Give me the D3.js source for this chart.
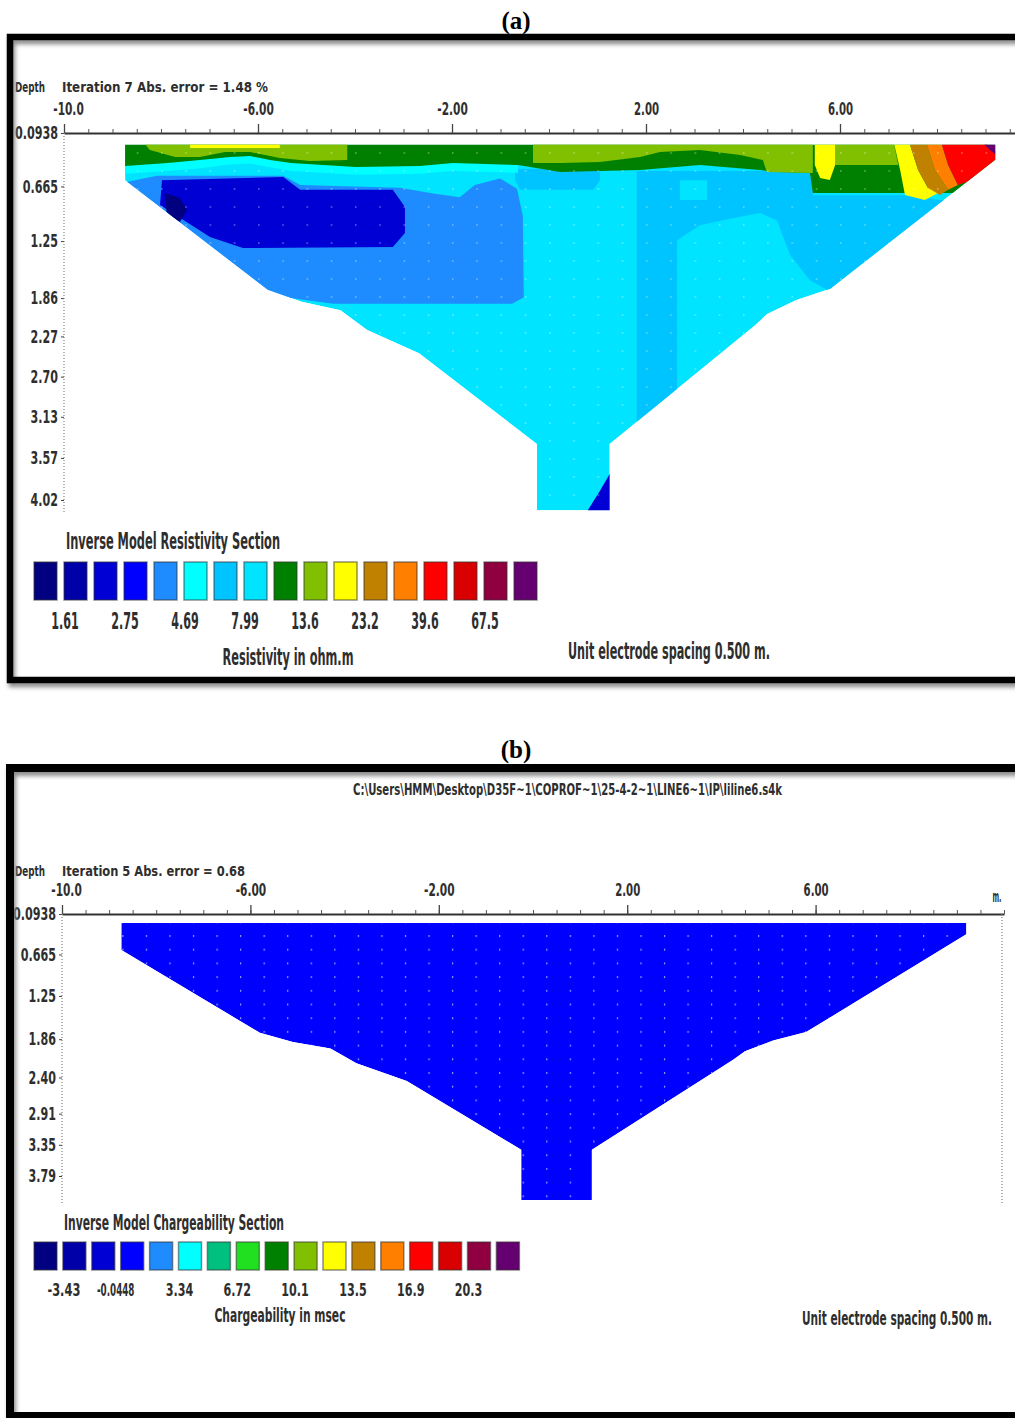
<!DOCTYPE html>
<html>
<head>
<meta charset="utf-8">
<title>Inverse model sections</title>
<script src="https://cdn.jsdelivr.net/npm/d3@7"></script>
<style>
  body { margin: 0; background: #ffffff; }
  svg { display: block; }
  .dos {
    font-family: "DejaVu Sans Condensed", "DejaVu Sans", sans-serif;
    font-weight: bold;
    fill: #2e2e2e;
  }
  .panel-title {
    font-family: "Liberation Serif", "Times New Roman", serif;
    font-weight: bold;
    font-size: 25px;
    fill: #000;
  }
</style>
</head>
<body>
<div id="chart"></div>
<script>
// ---- Data ----
var xMajorTicks = [-10, -6, -2, 2, 6];
var xMajorLabels = ["-10.0", "-6.00", "-2.00", "2.00", "6.00"];
var xMinorStep = 0.5; // unit electrode spacing

var depthTicksA = [0.0938, 0.665, 1.25, 1.86, 2.27, 2.70, 3.13, 3.57, 4.02];
var depthLabelsA = ["0.0938", "0.665", "1.25", "1.86", "2.27", "2.70", "3.13", "3.57", "4.02"];
var depthTicksB = [0.0938, 0.665, 1.25, 1.86, 2.40, 2.91, 3.35, 3.79];
var depthLabelsB = ["0.0938", "0.665", "1.25", "1.86", "2.40", "2.91", "3.35", "3.79"];

var resColors = ["#000080", "#0000a8", "#0000d4", "#0000ff", "#1e8cff", "#00ffff", "#00c4ff", "#00e4ff",
                 "#008000", "#80c000", "#ffff00", "#c08000", "#ff8000", "#ff0000", "#d80000", "#900040", "#640070"];
var resLabels = ["1.61", "2.75", "4.69", "7.99", "13.6", "23.2", "39.6", "67.5"];

var chgColors = ["#000080", "#0000a8", "#0000d4", "#0000ff", "#1e8cff", "#00ffff", "#00c080", "#20e020",
                 "#008000", "#80c000", "#ffff00", "#c08000", "#ff8000", "#ff0000", "#d80000", "#900040", "#640070"];
var chgLabels = ["-3.43", "-0.0448", "3.34", "6.72", "10.1", "13.5", "16.9", "20.3"];

// model section outline, [x (m), depth (m)] - same survey in both panels
var sectionOutline = [[-8.74, 0.22], [9.2, 0.22], [9.2, 0.38], [5.8, 1.76], [5.1, 1.88], [4.5, 2.03], [4.25, 2.15],
                      [1.25, 3.42], [1.25, 4.13], [-0.25, 4.13], [-0.25, 3.42], [-2.68, 2.45], [-3.75, 2.2],
                      [-4.3, 1.99], [-5.1, 1.9], [-5.8, 1.77], [-8.74, 0.6]];

// resistivity zones of panel (a), [x, depth]; level = index in resColors
var resBaseLevel = 7;
var zoneSkyTop = [[-0.70, 0.48], [1.05, 0.48], [1.05, 0.60], [0.91, 0.70], [-0.60, 0.70], [-0.70, 0.60]];
var zoneSkyRight = [[1.81, 0.50], [5.44, 0.50], [5.44, 0.76], [7.34, 0.76], [8.06, 0.81], [9.30, 0.81], [9.30, 2.10],
                    [5.79, 1.79], [5.38, 1.67], [4.97, 1.40], [4.70, 1.03], [4.35, 0.95], [3.73, 1.01], [3.11, 1.08],
                    [2.64, 1.24], [2.64, 3.70], [1.81, 3.70]];
var zonePaleSquare = [[2.70, 0.60], [3.26, 0.60], [3.26, 0.81], [2.70, 0.81]];
var zoneDodger = [[-8.08, 0.55], [-5.48, 0.55], [-5.13, 0.65], [-3.07, 0.68], [-2.39, 0.74], [-1.84, 0.78], [-1.53, 0.65],
                  [-1.01, 0.58], [-0.66, 0.69], [-0.54, 0.98], [-0.52, 1.85], [-0.76, 1.92], [-4.45, 1.92],
                  [-6.16, 1.80], [-8.74, 0.90], [-8.74, 0.62]];
var zoneDarkBlue = [[-7.98, 0.60], [-5.48, 0.565], [-5.13, 0.70], [-3.22, 0.70], [-2.97, 0.886], [-2.97, 1.164],
                    [-3.22, 1.314], [-6.31, 1.325], [-6.99, 1.207], [-8.02, 0.865]];
var zoneNavy = [[-7.92, 0.736], [-7.61, 0.79], [-7.46, 0.918], [-7.61, 1.047], [-7.88, 0.972]];
var zoneStemBlue = [[0.80, 4.13], [1.05, 3.92], [1.30, 3.70], [1.30, 4.20], [0.80, 4.20]];
var zoneCyanBand = [[-9.3, 0.43], [-8.74, 0.44], [-7.86, 0.41], [-7.20, 0.38], [-6.58, 0.35], [-6.16, 0.34], [-5.75, 0.38],
                    [-5.32, 0.41], [-3.98, 0.45], [-2.66, 0.44], [-1.98, 0.41], [-0.64, 0.43],
                    [-0.64, 0.52], [-1.98, 0.50], [-2.66, 0.53], [-3.98, 0.54], [-5.32, 0.50], [-5.75, 0.46],
                    [-6.16, 0.42], [-6.58, 0.43], [-7.20, 0.47], [-7.86, 0.50], [-8.74, 0.53], [-9.3, 0.53]];
var zoneGreen = [[-9.3, 0.15], [9.5, 0.15], [9.5, 0.736], [5.44, 0.736], [5.38, 0.522], [4.70, 0.511], [4.35, 0.490],
                 [3.11, 0.436], [1.88, 0.490], [1.05, 0.501], [0.23, 0.511], [-0.64, 0.436], [-1.98, 0.415],
                 [-2.66, 0.447], [-3.98, 0.458], [-5.32, 0.415], [-5.75, 0.383], [-6.16, 0.340], [-6.58, 0.351],
                 [-7.20, 0.383], [-7.86, 0.415], [-8.74, 0.447], [-9.3, 0.436]];
var zoneYgLeft = [[-8.43, 0.15], [-4.16, 0.15], [-4.16, 0.383], [-4.93, 0.394], [-5.55, 0.361], [-6.16, 0.297],
                  [-6.68, 0.297], [-7.20, 0.351], [-7.71, 0.351], [-8.23, 0.276]];
var zoneYgRight = [[-0.33, 0.15], [5.44, 0.15], [5.44, 0.522], [4.49, 0.511], [4.41, 0.383], [3.94, 0.329],
                   [3.11, 0.276], [2.29, 0.297], [1.88, 0.351], [1.05, 0.404], [0.23, 0.415], [-0.33, 0.415]];
var zoneYgRight2 = [[5.90, 0.15], [7.09, 0.15], [7.20, 0.436], [5.90, 0.436]];
var zoneYellowTop = [[-7.40, 0.15], [-5.55, 0.15], [-5.55, 0.255], [-7.40, 0.255]];
var zoneYellowCol = [[5.48, 0.15], [5.90, 0.15], [5.90, 0.436], [5.79, 0.597], [5.59, 0.576], [5.48, 0.436]];
var zoneYellowDiag = [[7.09, 0.15], [7.40, 0.15], [7.61, 0.49], [7.81, 0.68], [8.06, 0.725], [7.75, 0.81],
                      [7.34, 0.758], [7.24, 0.49]];
var zoneBrown = [[7.40, 0.15], [7.75, 0.15], [7.96, 0.49], [8.23, 0.70], [8.06, 0.758], [7.81, 0.68], [7.61, 0.49]];
var zoneOrange = [[7.75, 0.15], [8.06, 0.15], [8.23, 0.436], [8.43, 0.65], [8.23, 0.70], [7.96, 0.49]];
var zoneRed = [[8.06, 0.15], [8.89, 0.15], [9.30, 0.33], [9.30, 0.49], [8.43, 0.65], [8.23, 0.436]];
var zonePurple = [[8.85, 0.15], [9.30, 0.15], [9.30, 0.36], [9.09, 0.276]];

var resZones = [
  {level: 6, pts: zoneSkyTop},
  {level: 6, pts: zoneSkyRight},
  {level: 7, pts: zonePaleSquare},
  {level: 4, pts: zoneDodger},
  {level: 2, pts: zoneDarkBlue},
  {level: 0, pts: zoneNavy},
  {level: 2, pts: zoneStemBlue},
  {level: 5, pts: zoneCyanBand},
  {level: 8, pts: zoneGreen},
  {level: 9, pts: zoneYgLeft},
  {level: 9, pts: zoneYgRight},
  {level: 9, pts: zoneYgRight2},
  {level: 10, pts: zoneYellowTop},
  {level: 10, pts: zoneYellowCol},
  {level: 10, pts: zoneYellowDiag},
  {level: 11, pts: zoneBrown},
  {level: 12, pts: zoneOrange},
  {level: 13, pts: zoneRed},
  {level: 16, pts: zonePurple}
];

// chargeability section (b) is a single class
var chgBaseLevel = 3;

// ---- Set up ----
var svgWidth = 1015;
var svgHeight = 1418;

var svg = d3.select("#chart")
  .append("svg")
  .attr("width", svgWidth)
  .attr("height", svgHeight);

var defs = svg.append("defs");

defs.append("filter").attr("id", "soft")
  .append("feGaussianBlur").attr("stdDeviation", 2);

// Step 1: scales
var xA = d3.scaleLinear().domain([-10, 10]).range([64, 1034]);
var yA = d3.scaleLinear().domain([0.0938, 4.02]).range([133, 500]);
var xB = d3.scaleLinear().domain([-10, 10]).range([62, 1004]);
var yB = d3.scaleLinear().domain([0.0938, 3.79]).range([914, 1176]);

var minorTicks = d3.range(-10, 10 + 1e-9, xMinorStep);

// model cell dots
defs.append("pattern").attr("id", "dotsA").attr("patternUnits", "userSpaceOnUse")
  .attr("x", xA(-8.5)).attr("y", 152)
  .attr("width", xA(xMinorStep) - xA(0)).attr("height", 18)
  .append("rect").attr("width", 1.5).attr("height", 2).attr("fill", "#ffffff").attr("opacity", 0.3);

defs.append("pattern").attr("id", "dotsB").attr("patternUnits", "userSpaceOnUse")
  .attr("x", xB(-8.22)).attr("y", 935)
  .attr("width", xB(xMinorStep) - xB(0)).attr("height", 13.7)
  .append("rect").attr("width", 1.2).attr("height", 2).attr("fill", "#8f9cff");

function dosText(parent, x, y, txt, size, width, anchor) {
  return parent.append("text")
    .attr("class", "dos")
    .attr("x", x)
    .attr("y", y)
    .attr("dominant-baseline", "central")
    .attr("text-anchor", anchor || "start")
    .attr("font-size", size)
    .attr("textLength", width)
    .attr("lengthAdjust", "spacingAndGlyphs")
    .text(txt);
}

function numWidth(s, digit) {
  var w = 0;
  for (var i = 0; i < s.length; i++) {
    w += s[i] === "." ? 4 : (s[i] === "-" ? 5.5 : digit);
  }
  return w;
}

function drawFrame(y0, y1, w) {
  svg.append("rect")
    .attr("x", 12).attr("y", y0 + 4)
    .attr("width", 1040).attr("height", y1 - y0)
    .attr("fill", "none").attr("stroke", "#8c8c8c").attr("stroke-width", w)
    .attr("filter", "url(#soft)");
  svg.append("rect")
    .attr("x", 10).attr("y", y0)
    .attr("width", 1040).attr("height", y1 - y0)
    .attr("fill", "none").attr("stroke", "#000").attr("stroke-width", w);
}

function drawAxes(xs, ys, depthTicks, depthLabels, depthEnd) {
  var axisY = ys(depthTicks[0]);

  // minor ticks + main line
  svg.append("g")
    .attr("transform", "translate(0," + axisY + ")")
    .call(d3.axisTop(xs).tickValues(minorTicks).tickSize(4).tickSizeOuter(0).tickFormat(""))
    .call(function(g) { g.select(".domain").attr("stroke", "#333").attr("stroke-width", 2); })
    .call(function(g) { g.selectAll(".tick line").attr("stroke", "#555"); });

  // major ticks with labels
  var major = svg.append("g")
    .attr("transform", "translate(0," + axisY + ")")
    .call(d3.axisTop(xs).tickValues(xMajorTicks).tickSize(9).tickFormat(function(d, i) { return xMajorLabels[i]; }));
  major.select(".domain").remove();
  major.selectAll(".tick line").attr("stroke", "#444").attr("stroke-width", 1.3);
  major.selectAll(".tick text")
    .attr("class", "dos")
    .attr("font-size", 18)
    .attr("dy", null)
    .attr("y", -25)
    .attr("dx", function(d, i) { return i === 0 ? 4 : 0; })
    .attr("dominant-baseline", "central")
    .attr("textLength", function(d, i) { return numWidth(xMajorLabels[i], 7); })
    .attr("lengthAdjust", "spacingAndGlyphs");

  // depth axis
  var left = svg.append("g")
    .attr("transform", "translate(" + xs(-10) + ",0)")
    .call(d3.axisLeft(ys).tickValues(depthTicks).tickSize(3).tickPadding(3)
      .tickFormat(function(d, i) { return depthLabels[i]; }));
  left.select(".domain").remove();
  left.selectAll(".tick line").attr("stroke", "#444");
  left.selectAll(".tick text")
    .attr("class", "dos")
    .attr("font-size", 18)
    .attr("textLength", function(d, i) { return numWidth(depthLabels[i], 7.8); })
    .attr("lengthAdjust", "spacingAndGlyphs");

  svg.append("line")
    .attr("x1", xs(-10)).attr("x2", xs(-10))
    .attr("y1", axisY).attr("y2", ys(depthEnd))
    .attr("stroke", "#666").attr("stroke-width", 1)
    .attr("stroke-dasharray", "1,2");
}

var line = function(xs, ys) {
  return d3.line().x(function(d) { return xs(d[0]); }).y(function(d) { return ys(d[1]); })
    .curve(d3.curveLinearClosed);
};

function drawLegend(colors, labels, x0, pitch, y0, boxH, labelY, fontSize) {
  var bx = d3.scaleLinear().domain([0, colors.length]).range([x0, x0 + colors.length * pitch]);
  var g = svg.append("g");
  g.selectAll("rect")
    .data(colors)
    .enter()
    .append("rect")
    .attr("x", function(d, i) { return bx(i); })
    .attr("y", y0)
    .attr("width", 23)
    .attr("height", boxH)
    .attr("fill", function(d) { return d; })
    .attr("stroke", "#333")
    .attr("stroke-opacity", 0.55)
    .attr("stroke-width", 1.5);

  var lw = {4: 27.5, 5: 33, 7: 37.5};
  labels.forEach(function(t, i) {
    var shift = t.length > 5 ? -6 : 0;
    dosText(g, bx(2 * i + 1) + 1 + shift, labelY, t, fontSize, lw[t.length] || 30, "middle");
  });
}

// ================= Panel (a) =================
svg.append("text").attr("class", "panel-title")
  .attr("x", 516).attr("y", 29).attr("text-anchor", "middle").text("(a)");

dosText(svg, 15, 87, "Depth", 14, 30);
dosText(svg, 62, 87, "Iteration 7 Abs. error = 1.48 %", 14, 206);

// section (a)
defs.append("clipPath").attr("id", "clipA")
  .append("path").attr("d", line(xA, yA)(sectionOutline));

var secA = svg.append("g").attr("clip-path", "url(#clipA)");
secA.append("path")
  .attr("d", line(xA, yA)(sectionOutline))
  .attr("fill", resColors[resBaseLevel]);
secA.selectAll("path.zone")
  .data(resZones)
  .enter()
  .append("path")
  .attr("class", "zone")
  .attr("d", function(d) { return line(xA, yA)(d.pts); })
  .attr("fill", function(d) { return resColors[d.level]; });
secA.append("path")
  .attr("d", line(xA, yA)(sectionOutline))
  .attr("fill", "url(#dotsA)");

drawAxes(xA, yA, depthTicksA, depthLabelsA, 4.15);

dosText(svg, 66, 541, "Inverse Model Resistivity Section", 23, 214);
drawLegend(resColors, resLabels, 34, 30, 562, 38, 621, 23);
dosText(svg, 288, 657, "Resistivity in ohm.m", 23, 131, "middle");
dosText(svg, 568, 651, "Unit electrode spacing 0.500 m.", 23, 202);

drawFrame(37, 680, 6.5);

// ================= Panel (b) =================
svg.append("text").attr("class", "panel-title")
  .attr("x", 516).attr("y", 758).attr("text-anchor", "middle").text("(b)");

dosText(svg, 353, 790, "C:\\Users\\HMM\\Desktop\\D35F~1\\COPROF~1\\25-4-2~1\\LINE6~1\\IP\\liline6.s4k", 15, 429);
dosText(svg, 15, 871, "Depth", 14, 30);
dosText(svg, 62, 871, "Iteration 5 Abs. error = 0.68", 14, 183);

defs.append("clipPath").attr("id", "clipB")
  .append("path").attr("d", line(xB, yB)(sectionOutline));

var secB = svg.append("g").attr("clip-path", "url(#clipB)");
secB.append("path")
  .attr("d", line(xB, yB)(sectionOutline))
  .attr("fill", chgColors[chgBaseLevel]);
secB.append("path")
  .attr("d", line(xB, yB)(sectionOutline))
  .attr("fill", "url(#dotsB)");

drawAxes(xB, yB, depthTicksB, depthLabelsB, 4.2);

// right-hand depth line and unit
svg.append("line")
  .attr("x1", xB(10) - 2).attr("x2", xB(10) - 2)
  .attr("y1", yB(0.0938)).attr("y2", yB(4.2))
  .attr("stroke", "#666").attr("stroke-dasharray", "1,2");
dosText(svg, xB(10) - 7, 896, "m.", 16, 9, "middle");

dosText(svg, 64, 1223, "Inverse Model Chargeability Section", 21, 220);
drawLegend(chgColors, chgLabels, 34, 28.9, 1242, 28, 1290, 17);
dosText(svg, 280, 1315, "Chargeability in msec", 20, 131, "middle");
dosText(svg, 897, 1318, "Unit electrode spacing 0.500 m.", 20, 190, "middle");

drawFrame(768, 1416, 8);
</script>
</body>
</html>
